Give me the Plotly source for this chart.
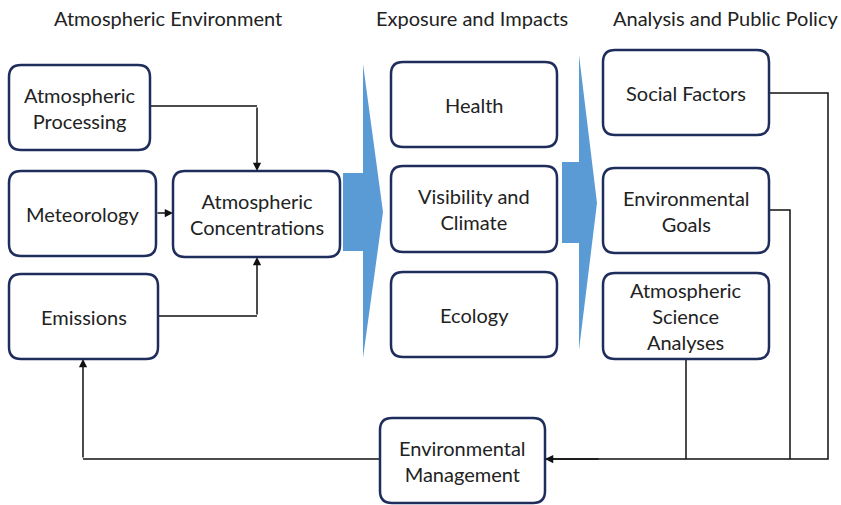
import plotly.graph_objects as go

# ---- content ----
titles = ["Atmospheric Environment", "Exposure and Impacts", "Analysis and Public Policy"]
box_labels = [
    "Atmospheric<br>Processing", "Meteorology", "Emissions", "Atmospheric<br>Concentrations",
    "Health", "Visibility and<br>Climate", "Ecology",
    "Social Factors", "Environmental<br>Goals", "Atmospheric<br>Science<br>Analyses",
    "Environmental<br>Management",
]

# ---- layout (pixel geometry) ----
W, H = 841, 505
title_pos = [(168, 18), (472, 18), (725, 18)]
box_geom = [  # x0, y0, x1, y1
    (9, 65, 150, 150), (9, 171, 156, 256), (9, 274, 158, 359), (173, 171, 340, 257),
    (391, 62, 557, 147), (391, 166, 557, 252), (391, 272, 557, 357),
    (603, 50, 769, 135), (603, 168, 769, 253), (603, 273, 769, 359),
    (380, 418, 545, 503),
]
BORDER = "#1f2d5c"
BLUE = "#5b9bd5"
LINE = "#111111"
FONT = "Lato"

fig = go.Figure()
shapes = []
annotations = []

def rrect(x0, y0, x1, y1, r=12):
    return (f"M{x0+r},{y0} L{x1-r},{y0} Q{x1},{y0} {x1},{y0+r} L{x1},{y1-r} "
            f"Q{x1},{y1} {x1-r},{y1} L{x0+r},{y1} Q{x0},{y1} {x0},{y1-r} "
            f"L{x0},{y0+r} Q{x0},{y0} {x0+r},{y0} Z")

for (x0, y0, x1, y1), lab in zip(box_geom, box_labels):
    shapes.append(dict(type="path", path=rrect(x0, y0, x1, y1), xref="x", yref="y",
                       line=dict(color=BORDER, width=2.5), fillcolor="white", layer="above"))
    annotations.append(dict(x=(x0 + x1) / 2, y=(y0 + y1) / 2, xref="x", yref="y", text=lab,
                            showarrow=False, font=dict(family=FONT, size=20, color="#222"),
                            align="center"))

for (tx, ty), t in zip(title_pos, titles):
    annotations.append(dict(x=tx, y=ty, xref="x", yref="y", text=t, showarrow=False,
                            font=dict(family=FONT, size=20, color="#222")))

# big blue chevrons
chev = [
    "M343,173 L363,173 L363,64 L383,212 L363,358 L363,251 L343,251 Z",
    "M562,162 L579,162 L579,55 L597,203 L579,350 L579,243 L562,243 Z",
]
for p in chev:
    shapes.append(dict(type="path", path=p, xref="x", yref="y", line=dict(width=0),
                       fillcolor=BLUE, layer="below"))

# connector polylines (without last segment which is an arrow)
polylines = [
    "M150,106 L257,106",
    "M158,316 L257,316",
    "M769,93 L828,93 L828,459 L545,459",
    "M769,210 L790,210 L790,459",
    "M686,359 L686,459",
    "M380,459 L83,459",
]
for p in polylines:
    shapes.append(dict(type="path", path=p, xref="x", yref="y",
                       line=dict(color=LINE, width=1.5), layer="below"))

arrows = [  # tail -> head
    ((257, 106), (257, 171)),
    ((156, 213), (173, 213)),
    ((257, 316), (257, 257)),
    ((600, 459), (545, 459)),
    ((83, 459), (83, 359)),
]
for (ax, ay), (x, y) in arrows:
    annotations.append(dict(x=x, y=y, ax=ax, ay=ay, xref="x", yref="y", axref="x", ayref="y",
                            showarrow=True, arrowhead=2, arrowsize=1.1, arrowwidth=1.5,
                            arrowcolor=LINE, text="", standoff=0))

fig.update_layout(
    width=W, height=H, margin=dict(l=0, r=0, t=0, b=0),
    paper_bgcolor="white", plot_bgcolor="white",
    xaxis=dict(range=[0, W], visible=False, fixedrange=True),
    yaxis=dict(range=[H, 0], visible=False, fixedrange=True),
    shapes=shapes, annotations=annotations, showlegend=False,
)
fig.write_html("out.html", config={"displayModeBar": False},
               post_script="document.body.style.margin='0';")
